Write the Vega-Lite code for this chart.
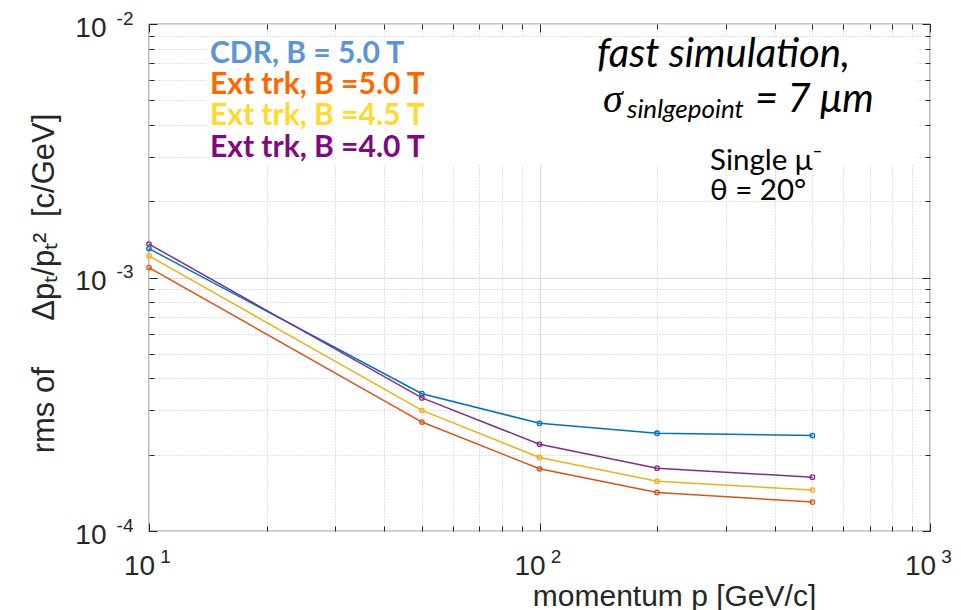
{
  "$schema": "https://vega.github.io/schema/vega-lite/v6.json",
  "width": 781,
  "height": 507,
  "autosize": "none",
  "padding": {"left": 149, "top": 24, "right": 31, "bottom": 79},
  "background": "white",
  "config": {
    "view": {"stroke": "#262626", "strokeWidth": 1.2},
    "axis": {"domain": false, "labelFont": "Liberation Sans", "titleFont": "Liberation Sans", "labelColor": "#262626", "titleColor": "#262626", "tickColor": "#262626", "labelFlush": false, "labelOverlap": false, "titleFontWeight": "normal"}
  },
  "datasets": {
    "res": [
      {"series": "CDR, B = 5.0 T", "p": 10, "rms": 0.00130},
      {"series": "CDR, B = 5.0 T", "p": 50, "rms": 0.000348},
      {"series": "CDR, B = 5.0 T", "p": 100, "rms": 0.000266},
      {"series": "CDR, B = 5.0 T", "p": 200, "rms": 0.000243},
      {"series": "CDR, B = 5.0 T", "p": 500, "rms": 0.000238},
      {"series": "Ext trk, B =5.0 T", "p": 10, "rms": 0.001094},
      {"series": "Ext trk, B =5.0 T", "p": 50, "rms": 0.000269},
      {"series": "Ext trk, B =5.0 T", "p": 100, "rms": 0.000176},
      {"series": "Ext trk, B =5.0 T", "p": 200, "rms": 0.000142},
      {"series": "Ext trk, B =5.0 T", "p": 500, "rms": 0.000130},
      {"series": "Ext trk, B =4.5 T", "p": 10, "rms": 0.001217},
      {"series": "Ext trk, B =4.5 T", "p": 50, "rms": 0.000299},
      {"series": "Ext trk, B =4.5 T", "p": 100, "rms": 0.000195},
      {"series": "Ext trk, B =4.5 T", "p": 200, "rms": 0.000157},
      {"series": "Ext trk, B =4.5 T", "p": 500, "rms": 0.000145},
      {"series": "Ext trk, B =4.0 T", "p": 10, "rms": 0.001355},
      {"series": "Ext trk, B =4.0 T", "p": 50, "rms": 0.000335},
      {"series": "Ext trk, B =4.0 T", "p": 100, "rms": 0.000220},
      {"series": "Ext trk, B =4.0 T", "p": 200, "rms": 0.000177},
      {"series": "Ext trk, B =4.0 T", "p": 500, "rms": 0.000163}
    ],
    "box": [{"x1": 14.08, "x2": 926, "y1": 0.00889, "y2": 0.00278}],
    "legend": [
      {"label": "CDR, B = 5.0 T", "px": 14.33, "py": 0.00702},
      {"label": "Ext trk, B =5.0 T", "px": 14.33, "py": 0.005295},
      {"label": "Ext trk, B =4.5 T", "px": 14.33, "py": 0.003995},
      {"label": "Ext trk, B =4.0 T", "px": 14.33, "py": 0.002987}
    ],
    "italic": [
      {"label": "fast simulation,", "px": 140.3, "py": 0.00677},
      {"label": "= 7 μm", "px": 356.3, "py": 0.004497}
    ],
    "sigma": [{"label": "σ", "px": 145.4, "py": 0.004497}],
    "sub": [{"label": "sinlgepoint", "px": 167.5, "py": 0.004256}],
    "plain": [
      {"label": "Single μ⁻", "px": 273.3, "py": 0.002655},
      {"label": "θ = 20°", "px": 273.3, "py": 0.002021}
    ]
  },
  "resolve": {"axis": {"x": "independent", "y": "independent"}, "scale": {"color": "independent"}},
  "layer": [
    {
      "data": {"name": "box"},
      "mark": {"type": "rect", "fill": "white"},
      "encoding": {
        "x": {"field": "x1", "type": "quantitative", "scale": {"type": "log", "domain": [10, 1000], "nice": false}, "axis": null},
        "x2": {"field": "x2"},
        "y": {"field": "y1", "type": "quantitative", "scale": {"type": "log", "domain": [0.0001, 0.01], "nice": false}, "axis": null},
        "y2": {"field": "y2"}
      }
    },
    {
      "data": {"name": "res"},
      "mark": {"type": "line", "strokeWidth": 1.5},
      "encoding": {
        "x": {"field": "p", "type": "quantitative", "scale": {"type": "log", "domain": [10, 1000], "nice": false},
          "axis": {"orient": "bottom", "values": [20, 30, 40, 50, 60, 70, 80, 90, 200, 300, 400, 500, 600, 700, 800, 900], "grid": true, "gridDash": [1, 2], "gridColor": "#c4c4c4", "tickSize": -5, "labels": false, "title": null}},
        "y": {"field": "rms", "type": "quantitative", "scale": {"type": "log", "domain": [0.0001, 0.01], "nice": false},
          "axis": {"orient": "left", "values": [0.0002, 0.0003, 0.0004, 0.0005, 0.0006, 0.0007, 0.0008, 0.0009, 0.002, 0.003, 0.004, 0.005, 0.006, 0.007, 0.008, 0.009], "grid": true, "gridDash": [1, 2], "gridColor": "#c4c4c4", "tickSize": -5, "labels": false, "title": null}},
        "color": {"field": "series", "type": "nominal", "legend": null,
          "scale": {"domain": ["CDR, B = 5.0 T", "Ext trk, B =5.0 T", "Ext trk, B =4.5 T", "Ext trk, B =4.0 T"], "range": ["#0072BD", "#D95319", "#EDB120", "#7E2F8E"]}}
      }
    },
    {
      "data": {"name": "res"},
      "mark": {"type": "point", "filled": false, "strokeWidth": 1.3, "size": 20, "opacity": 1},
      "encoding": {
        "x": {"field": "p", "type": "quantitative", "scale": {"type": "log", "domain": [10, 1000], "nice": false},
          "axis": {"orient": "bottom", "values": [10, 100, 1000], "grid": true, "gridColor": "#dcdcdc", "tickSize": -8, "labels": false, "title": null}},
        "y": {"field": "rms", "type": "quantitative", "scale": {"type": "log", "domain": [0.0001, 0.01], "nice": false},
          "axis": {"orient": "left", "values": [0.0001, 0.001, 0.01], "grid": true, "gridColor": "#dcdcdc", "tickSize": -8, "labels": false, "title": null}},
        "color": {"field": "series", "type": "nominal", "legend": null,
          "scale": {"domain": ["CDR, B = 5.0 T", "Ext trk, B =5.0 T", "Ext trk, B =4.5 T", "Ext trk, B =4.0 T"], "range": ["#0072BD", "#D95319", "#EDB120", "#7E2F8E"]}}
      }
    },
    {
      "data": {"name": "res"},
      "mark": {"type": "point", "opacity": 0},
      "encoding": {
        "x": {"field": "p", "type": "quantitative", "scale": {"type": "log", "domain": [10, 1000], "nice": false},
          "axis": {"orient": "bottom", "values": [10, 100, 1000], "grid": false, "ticks": false, "labelExpr": "'10'", "labelFontSize": 28, "labelOffset": -10, "labelPadding": 21, "labelBaseline": "top", "labelAlign": "center",
            "title": "momentum p [GeV/c]", "titleFontSize": 30, "titleX": 525, "titleY": 74, "titleBaseline": "alphabetic", "titleAlign": "center", "titleAngle": 0}},
        "y": {"field": "rms", "type": "quantitative", "scale": {"type": "log", "domain": [0.0001, 0.01], "nice": false},
          "axis": {"orient": "left", "values": [0.0001, 0.001, 0.01], "grid": false, "ticks": false, "labelExpr": "'10'", "labelFontSize": 28, "labelOffset": 4, "labelPadding": 43, "labelBaseline": "middle", "labelAlign": "right",
            "title": "rms of\u2003\u2002Δpₜ/pₜ²\u2002[c/GeV]", "titleFontSize": 31, "titleX": -96, "titleY": 259, "titleBaseline": "alphabetic", "titleAlign": "center", "titleAngle": -90}}
      }
    },
    {
      "data": {"name": "res"},
      "mark": {"type": "point", "opacity": 0},
      "encoding": {
        "x": {"field": "p", "type": "quantitative", "scale": {"type": "log", "domain": [10, 1000], "nice": false},
          "axis": {"orient": "bottom", "values": [10, 100, 1000], "grid": false, "ticks": false, "labelExpr": "'' + round(log(datum.value)/LN10)", "labelFontSize": 19, "labelOffset": 16, "labelPadding": 16, "labelBaseline": "top", "labelAlign": "center", "title": null}},
        "y": {"field": "rms", "type": "quantitative", "scale": {"type": "log", "domain": [0.0001, 0.01], "nice": false},
          "axis": {"orient": "left", "values": [0.0001, 0.001, 0.01], "grid": false, "ticks": false, "labelExpr": "'' + round(log(datum.value)/LN10)", "labelFontSize": 19, "labelOffset": -6, "labelPadding": 16, "labelBaseline": "middle", "labelAlign": "right", "title": null}}
      }
    },
    {
      "data": {"name": "res"},
      "mark": {"type": "point", "opacity": 0},
      "encoding": {
        "x": {"field": "p", "type": "quantitative", "scale": {"type": "log", "domain": [10, 1000], "nice": false},
          "axis": {"orient": "top", "values": [20, 30, 40, 50, 60, 70, 80, 90, 200, 300, 400, 500, 600, 700, 800, 900], "grid": false, "tickSize": -5, "labels": false, "title": null}},
        "y": {"field": "rms", "type": "quantitative", "scale": {"type": "log", "domain": [0.0001, 0.01], "nice": false},
          "axis": {"orient": "right", "values": [0.0002, 0.0003, 0.0004, 0.0005, 0.0006, 0.0007, 0.0008, 0.0009, 0.002, 0.003, 0.004, 0.005, 0.006, 0.007, 0.008, 0.009], "grid": false, "tickSize": -5, "labels": false, "title": null}}
      }
    },
    {
      "data": {"name": "res"},
      "mark": {"type": "point", "opacity": 0},
      "encoding": {
        "x": {"field": "p", "type": "quantitative", "scale": {"type": "log", "domain": [10, 1000], "nice": false},
          "axis": {"orient": "top", "values": [10, 100, 1000], "grid": false, "tickSize": -8, "labels": false, "title": null}},
        "y": {"field": "rms", "type": "quantitative", "scale": {"type": "log", "domain": [0.0001, 0.01], "nice": false},
          "axis": {"orient": "right", "values": [0.0001, 0.001, 0.01], "grid": false, "tickSize": -8, "labels": false, "title": null}}
      }
    },
    {
      "data": {"name": "legend"},
      "mark": {"type": "text", "font": "Lato", "fontWeight": "bold", "fontSize": 30, "align": "left", "baseline": "alphabetic"},
      "encoding": {
        "x": {"field": "px", "type": "quantitative", "scale": {"type": "log", "domain": [10, 1000], "nice": false}, "axis": null},
        "y": {"field": "py", "type": "quantitative", "scale": {"type": "log", "domain": [0.0001, 0.01], "nice": false}, "axis": null},
        "text": {"field": "label"},
        "color": {"field": "label", "type": "nominal", "legend": null,
          "scale": {"domain": ["CDR, B = 5.0 T", "Ext trk, B =5.0 T", "Ext trk, B =4.5 T", "Ext trk, B =4.0 T"], "range": ["#5B94D8", "#FF6600", "#FFD92F", "#7F0A80"]}}
      }
    },
    {
      "data": {"name": "italic"},
      "mark": {"type": "text", "font": "Lato", "fontStyle": "italic", "fontSize": 40, "align": "left", "baseline": "alphabetic", "color": "#000000"},
      "encoding": {
        "x": {"field": "px", "type": "quantitative", "scale": {"type": "log", "domain": [10, 1000], "nice": false}, "axis": null},
        "y": {"field": "py", "type": "quantitative", "scale": {"type": "log", "domain": [0.0001, 0.01], "nice": false}, "axis": null},
        "text": {"field": "label"}
      }
    },
    {
      "data": {"name": "sigma"},
      "mark": {"type": "text", "font": "Liberation Serif", "fontStyle": "italic", "fontSize": 40, "align": "left", "baseline": "alphabetic", "color": "#000000"},
      "encoding": {
        "x": {"field": "px", "type": "quantitative", "scale": {"type": "log", "domain": [10, 1000], "nice": false}, "axis": null},
        "y": {"field": "py", "type": "quantitative", "scale": {"type": "log", "domain": [0.0001, 0.01], "nice": false}, "axis": null},
        "text": {"field": "label"}
      }
    },
    {
      "data": {"name": "sub"},
      "mark": {"type": "text", "font": "Lato", "fontStyle": "italic", "fontSize": 26, "align": "left", "baseline": "alphabetic", "color": "#000000"},
      "encoding": {
        "x": {"field": "px", "type": "quantitative", "scale": {"type": "log", "domain": [10, 1000], "nice": false}, "axis": null},
        "y": {"field": "py", "type": "quantitative", "scale": {"type": "log", "domain": [0.0001, 0.01], "nice": false}, "axis": null},
        "text": {"field": "label"}
      }
    },
    {
      "data": {"name": "plain"},
      "mark": {"type": "text", "font": "Lato", "fontSize": 29.5, "align": "left", "baseline": "alphabetic", "color": "#000000"},
      "encoding": {
        "x": {"field": "px", "type": "quantitative", "scale": {"type": "log", "domain": [10, 1000], "nice": false}, "axis": null},
        "y": {"field": "py", "type": "quantitative", "scale": {"type": "log", "domain": [0.0001, 0.01], "nice": false}, "axis": null},
        "text": {"field": "label"}
      }
    }
  ]
}
